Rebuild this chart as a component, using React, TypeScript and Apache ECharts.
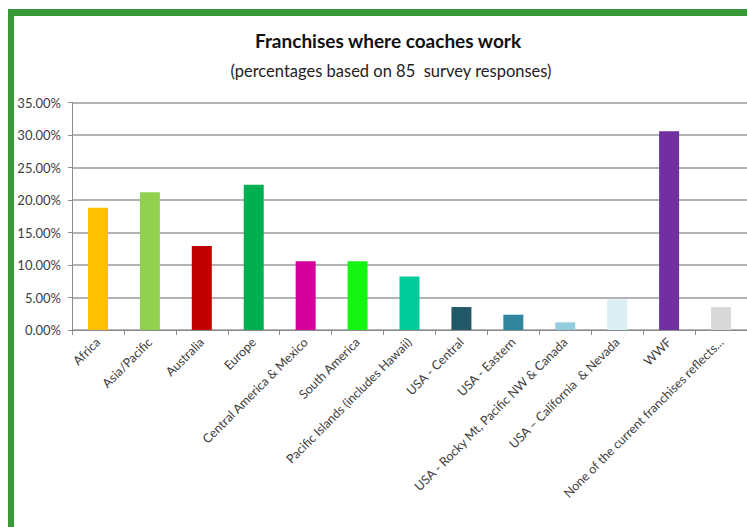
import React, { useEffect, useRef } from "react";
import * as echarts from "echarts";

const titleText = "Franchises where coaches work";
const subtitleText = "(percentages based on 85  survey responses)";

const categories = [
  "Africa",
  "Asia/Pacific",
  "Australia",
  "Europe",
  "Central America & Mexico",
  "South America",
  "Pacific Islands (includes Hawaii)",
  "USA - Central",
  "USA - Eastern",
  "USA - Rocky Mt, Pacific NW & Canada",
  "USA \u2013 California  & Nevada",
  "WWF",
  "None of the current franchises reflects...",
];

const values = [18.82, 21.18, 12.94, 22.35, 10.59, 10.59, 8.24, 3.53, 2.35, 1.18, 4.71, 30.59, 3.53];

const barColors = [
  "#FFC000",
  "#92D050",
  "#C00000",
  "#00B050",
  "#D6009A",
  "#14F514",
  "#00CC99",
  "#215968",
  "#31859C",
  "#93CDDD",
  "#DAEEF3",
  "#7030A0",
  "#D9D9D9",
];

const yTicks = [0, 5, 10, 15, 20, 25, 30, 35];

export default function App() {
  const ref = useRef<HTMLDivElement>(null);
  useEffect(() => {
    if (!ref.current) return;
    const chart = echarts.init(ref.current, null, { renderer: "svg" });
    const font = "Lato, 'Open Sans', sans-serif";
    chart.setOption({
      animation: false,
      backgroundColor: "#ffffff",
      title: [
        {
          text: titleText,
          left: 383,
          top: 26,
          textAlign: "center",
          textStyle: { fontFamily: font, fontSize: 19, fontWeight: "bold", color: "#111" },
        },
        {
          text: subtitleText,
          left: 386,
          top: 57,
          textAlign: "center",
          textStyle: { fontFamily: font, fontSize: 16.5, fontWeight: "normal", color: "#222" },
        },
      ],
      graphic: [
        { type: "rect", shape: { x: 8, y: 9, width: 6, height: 530 }, style: { fill: "#37993A" }, z: 100 },
        { type: "rect", shape: { x: 8, y: 9, width: 760, height: 7 }, style: { fill: "#37993A" }, z: 100 },
      ],
      grid: { left: 72, right: -3, top: 102.5, bottom: 197, containLabel: false },
      xAxis: {
        type: "category",
        data: categories,
        axisLine: { show: true, lineStyle: { color: "#8c8c8c", width: 1 } },
        axisTick: { show: true, alignWithLabel: false, length: 5, lineStyle: { color: "#8c8c8c" } },
        axisLabel: {
          interval: 0,
          rotate: 45,
          margin: 10,
          fontFamily: font,
          fontSize: 12.5,
          color: "#404040",
        },
      },
      yAxis: {
        type: "value",
        min: yTicks[0],
        max: yTicks[yTicks.length - 1],
        interval: 5,
        axisLine: { show: true, lineStyle: { color: "#8c8c8c", width: 1 } },
        axisTick: { show: true, length: 4, lineStyle: { color: "#8c8c8c" } },
        splitLine: { show: true, lineStyle: { color: "#9a9a9a", width: 1.5 } },
        axisLabel: {
          margin: 11,
          fontFamily: font,
          fontSize: 13,
          color: "#404040",
          formatter: (v: number) => v.toFixed(2) + "%",
        },
      },
      series: [
        {
          type: "bar",
          barWidth: 20,
          data: values.map((v, i) => ({ value: v, itemStyle: { color: barColors[i] } })),
        },
      ],
    });
    return () => chart.dispose();
  }, []);
  return (
    <div
      ref={ref}
      style={{ position: "fixed", left: 0, top: 0, width: 747, height: 527, background: "#fff" }}
    />
  );
}
